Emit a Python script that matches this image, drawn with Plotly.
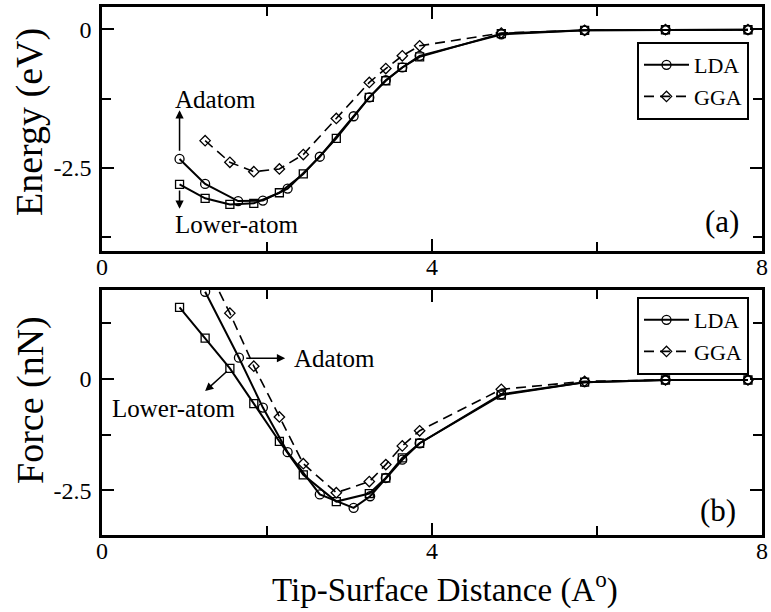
import plotly.graph_objects as go

# ---------------- data ----------------
# Energy panel (a)
e_lda_x = [0.94, 1.25, 1.65, 1.95, 2.25, 2.64, 3.05, 3.24, 3.44, 3.64, 3.85, 4.84, 5.85, 6.83, 7.83]
e_lda_y = [-2.34, -2.79, -3.10, -3.09, -2.875, -2.30, -1.57, -1.23, -0.92, -0.69, -0.48, -0.095, -0.02, -0.01, -0.01]
e_low_x = [0.94, 1.25, 1.55, 1.84, 2.15, 2.44, 2.84, 3.24, 3.44, 3.64, 3.85, 4.84, 5.85, 6.83, 7.83]
e_low_y = [-2.80, -3.05, -3.16, -3.14, -2.95, -2.61, -1.97, -1.23, -0.93, -0.69, -0.50, -0.08, -0.02, -0.01, -0.01]
e_gga_x = [1.25, 1.55, 1.84, 2.15, 2.44, 2.84, 3.24, 3.44, 3.64, 3.85, 4.84, 5.85, 6.83, 7.83]
e_gga_y = [-2.01, -2.40, -2.57, -2.52, -2.26, -1.61, -0.96, -0.71, -0.48, -0.30, -0.07, -0.02, -0.01, -0.01]

# Force panel (b)
f_lda_x = [1.25, 1.66, 1.95, 2.25, 2.64, 3.05, 3.25, 3.44, 3.64, 3.85, 4.84, 5.85, 6.83, 7.83]
f_lda_y = [1.96, 0.48, -0.64, -1.64, -2.59, -2.89, -2.63, -2.22, -1.81, -1.44, -0.34, -0.07, -0.02, -0.02]
f_low_x = [0.94, 1.25, 1.55, 1.84, 2.15, 2.44, 2.84, 3.24, 3.44, 3.64, 3.85, 4.84, 5.85, 6.83, 7.83]
f_low_y = [1.61, 0.92, 0.24, -0.55, -1.40, -2.15, -2.75, -2.57, -2.22, -1.77, -1.44, -0.36, -0.07, -0.02, -0.02]
f_gga_x = [1.25, 1.55, 1.84, 2.15, 2.44, 2.84, 3.24, 3.44, 3.64, 3.85, 4.84, 5.85, 6.83, 7.83]
f_gga_y = [2.6, 1.48, 0.29, -0.85, -1.90, -2.55, -2.30, -1.92, -1.50, -1.16, -0.23, -0.05, -0.02, -0.02]

x_ticks = [0, 4, 8]
x_ticklabels = ["0", "4", "8"]
y_ticks = [0, -2.5]
y_ticklabels = ["0", "-2.5"]

FONT = "Liberation Serif"
BLACK = "black"

fig = go.Figure()

def add_series(x, y, xa, ya, symbol, dash, lw, name, show, legend):
    fig.add_trace(go.Scatter(
        x=x, y=y, xaxis=xa, yaxis=ya, mode="lines+markers", name=name,
        showlegend=show, legend=legend,
        line=dict(color=BLACK, width=lw, dash=dash),
        marker=dict(symbol=symbol, size=9 if "circle" in symbol else 8,
                    color=BLACK, line=dict(color=BLACK, width=1.3)),
        hoverinfo="skip", cliponaxis=True))

DASH = "10px,6px"
# top panel
add_series(e_lda_x, e_lda_y, "x", "y", "circle-open", "solid", 2, "LDA", True, "legend")
add_series(e_gga_x, e_gga_y, "x", "y", "diamond-open", DASH, 1.6, "GGA", True, "legend")
add_series(e_low_x, e_low_y, "x", "y", "square-open", "solid", 2, "LDA lower", False, "legend")
# bottom panel
add_series(f_lda_x, f_lda_y, "x2", "y2", "circle-open", "solid", 2, "LDA", True, "legend2")
add_series(f_gga_x, f_gga_y, "x2", "y2", "diamond-open", DASH, 1.6, "GGA", True, "legend2")
add_series(f_low_x, f_low_y, "x2", "y2", "square-open", "solid", 2, "LDA lower", False, "legend2")

W, H = 771, 612

def px(xp):
    return xp / W

def py(yp):
    return 1 - yp / H

xdom = [px(102), px(762)]
ydom_top = [py(251), py(7)]
ydom_bot = [py(535), py(290)]

def xaxis(anchor):
    return dict(domain=xdom, range=[0, 8], anchor=anchor,
                tickvals=x_ticks, ticktext=x_ticklabels,
                ticks="inside", ticklen=12, tickwidth=2, tickcolor=BLACK,
                minor=dict(tickvals=[2, 6], ticks="inside", ticklen=9, tickwidth=2, tickcolor=BLACK),
                showline=True, linewidth=2.5, linecolor=BLACK, mirror="ticks",
                showgrid=False, zeroline=False, ticklabeloverflow="allow",
                tickfont=dict(family=FONT, size=24, color=BLACK),
                ticklabelstandoff=-8)

def yaxis(anchor, dom, rng, minors):
    return dict(domain=dom, range=rng, anchor=anchor,
                tickvals=y_ticks, ticktext=y_ticklabels,
                ticks="inside", ticklen=12, tickwidth=2, tickcolor=BLACK,
                minor=dict(tickvals=minors, ticks="inside", ticklen=9, tickwidth=2, tickcolor=BLACK),
                showline=True, linewidth=2.5, linecolor=BLACK, mirror="ticks",
                showgrid=False, zeroline=False,
                tickfont=dict(family=FONT, size=24, color=BLACK),
                ticklabelstandoff=3)

legend_style = dict(bgcolor="white", bordercolor=BLACK, borderwidth=2,
                    font=dict(family=FONT, size=22, color=BLACK),
                    xanchor="left", yanchor="top", itemwidth=45,
                    tracegroupgap=0, traceorder="normal")

fig.update_layout(
    width=W, height=H, margin=dict(l=0, r=0, t=0, b=0, autoexpand=False),
    paper_bgcolor="white", plot_bgcolor="white",
    font=dict(family=FONT, color=BLACK),
    xaxis=xaxis("y"), yaxis=yaxis("x", ydom_top, [-4, 0.4], [-1.25, -3.75]),
    xaxis2=xaxis("y2"), yaxis2=yaxis("x2", ydom_bot, [-3.5, 2], [1.25, -1.25]),
    legend=dict(x=px(637), y=py(42), **legend_style),
    legend2=dict(x=px(637), y=py(297), **legend_style),
    showlegend=True,
)

anns = []
def arrow(x, y, ax, ay, xr, yr):
    anns.append(dict(x=x, y=y, ax=ax, ay=ay, xref=xr, yref=yr, axref=xr, ayref=yr,
                     text="", showarrow=True, arrowhead=2, arrowsize=1.1,
                     arrowwidth=1.5, arrowcolor=BLACK))
def label(x, y, text, xr, yr, size=25):
    anns.append(dict(x=x, y=y, xref=xr, yref=yr, text=text, showarrow=False,
                     xanchor="center", yanchor="middle",
                     font=dict(family=FONT, size=size, color=BLACK)))

# top panel arrows and labels
arrow(0.94, -1.46, 0.94, -2.22, "x", "y")
arrow(0.94, -3.24, 0.94, -2.88, "x", "y")
label(1.38, -1.26, "Adatom", "x", "y")
label(1.64, -3.53, "Lower-atom", "x", "y")
label(7.52, -3.46, "(a)", "x", "y", 31)
# bottom panel arrows and labels
arrow(2.22, 0.47, 1.73, 0.47, "x2", "y2")
arrow(1.25, -0.27, 1.53, 0.20, "x2", "y2")
label(2.82, 0.47, "Adatom", "x2", "y2")
label(0.87, -0.67, "Lower-atom", "x2", "y2")
label(7.47, -2.95, "(b)", "x2", "y2", 31)

# axis titles
def title(x, y, text, size, angle=0):
    anns.append(dict(x=px(x), y=py(y), xref="paper", yref="paper", text=text,
                     textangle=angle, showarrow=False, xanchor="center", yanchor="middle",
                     font=dict(family=FONT, size=size, color=BLACK)))

title(30, 122, "Energy (eV)", 38, -90)
title(30, 400, "Force (nN)", 38, -90)
title(445, 587, "Tip-Surface Distance (A<sup>o</sup>)", 33)

fig.update_layout(annotations=anns)
fig.write_html("out.html", config={"displayModeBar": False})
